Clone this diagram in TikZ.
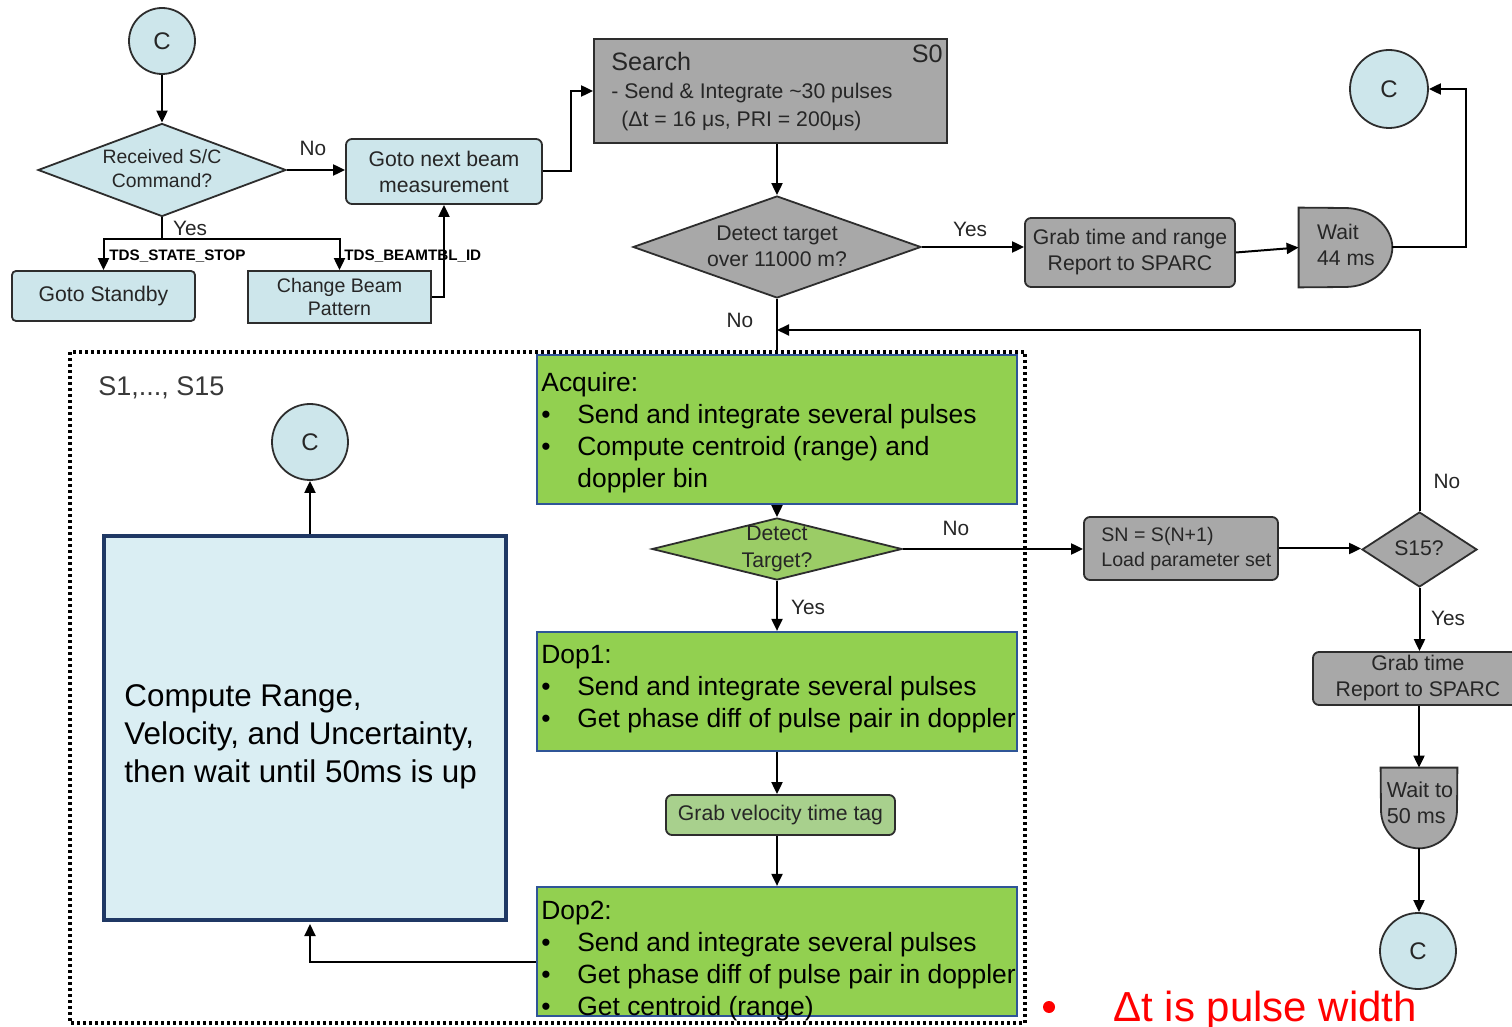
\documentclass[tikz,border=0pt]{standalone}
\usepackage{fontspec}
\setmainfont{Liberation Sans}
\usetikzlibrary{shapes.geometric,arrows.meta,calc}
\definecolor{lblue}{RGB}{205,230,235}
\definecolor{grayf}{RGB}{168,168,168}
\definecolor{acqgreen}{RGB}{146,208,80}
\definecolor{dgreen}{RGB}{155,204,102}
\definecolor{vgreen}{RGB}{168,208,141}
\definecolor{bigfill}{RGB}{218,238,243}
\definecolor{navy}{RGB}{31,56,100}
\definecolor{bord}{RGB}{47,85,151}
\definecolor{edgec}{RGB}{45,45,45}
\newcommand{\mybul}{\makebox[18pt][l]{\textbullet}}
\tikzset{
  every node/.style={font=\fontsize{10.6}{13}\selectfont, text=black!85},
  txt/.style={inner sep=0pt},
  shp/.style={draw=edgec, line width=0.9pt, inner sep=0pt},
  lbbox/.style={shp, fill=lblue, rounded corners=3pt, align=center},
  gbox/.style={shp, fill=grayf, rounded corners=3pt, align=center},
  dia/.style={shp, diamond, aspect=2},
  conn/.style={shp, circle, fill=lblue, minimum size=38pt, font=\fontsize{12}{14}\selectfont},
  gbig/.style={draw=bord, line width=1.1pt, fill=acqgreen, inner sep=0pt, minimum width=240pt},
  btext/.style={txt, anchor=north west, align=left, text=black, font=\fontsize{13.2}{16}\selectfont},
  arr/.style={-{Triangle[length=6pt,width=5.5pt]}, line width=1pt, draw=black},
  ln/.style={line width=1pt, draw=black},
  lab/.style={txt, font=\fontsize{10.4}{12}\selectfont},
  tds/.style={txt, anchor=west, font=\fontsize{7.6}{9}\bfseries\selectfont, text=black}
}
\begin{document}
\begin{tikzpicture}[x=0.5pt,y=-0.5pt]
\clip (0,0) rectangle (1512,1027);
\fill[white] (0,0) rectangle (1512,1027);

% dotted frame of S1..S15
\draw[line width=1.6pt, dash pattern=on 1.5pt off 1.5pt] (70,352) rectangle (1025,1023);
\node[txt, anchor=west, font=\fontsize{13.5}{16}\selectfont, text=gray!45!black] (slab) at (98,388) {S1,..., S15};

% ---------- top left ----------
\node[conn, minimum size=33pt] (c1) at (162,41) {C};
\node[dia, fill=lblue, minimum width=124pt, minimum height=46.5pt] (d1) at (162,170) {};
\node[txt, align=center, font=\fontsize{9.7}{12}\selectfont] (d1t) at (162,169) {Received S/C\\Command?};
\node[lbbox, minimum width=98pt, minimum height=32.5pt] (bnext) at (444,171.5) {Goto next beam\\measurement};
\node[lbbox, rounded corners=2pt, minimum width=91.5pt, minimum height=25pt] (standby) at (103.5,296) {Goto Standby};
\node[shp, fill=lblue, align=center, minimum width=91.5pt, minimum height=26pt, font=\fontsize{9.8}{11.5}\selectfont] (change) at (339.5,297) {Change Beam\\Pattern};

\coordinate (yj) at (162,239);
\draw[arr] (c1.south) -- (d1.north);
\draw[arr] (d1.east) -- (d1.east -| bnext.west);
\node[lab] (no1) at (313,148) {No};
\draw[ln] (d1.south) -- (yj);
\draw[arr] (yj) -| (standby.north);
\draw[arr] (yj) -| (change.north);
\node[lab] (yes1) at (190,228) {Yes};
\node[tds] (tds1) at (109,256) {TDS\_STATE\_STOP};
\node[tds] (tds2) at (344,256) {TDS\_BEAMTBL\_ID};
\draw[arr] (change.east) -| (bnext.south);

% ---------- search ----------
\node[shp, fill=grayf, minimum width=176.5pt, minimum height=52pt] (search) at (770.5,91) {};
\node[txt, anchor=west, font=\fontsize{12.6}{15}\selectfont] (srch) at (611,61) {Search};
\node[txt, anchor=east, font=\fontsize{12.6}{15}\selectfont] (s0) at (943,54) {S0};
\node[txt, anchor=west] (srl1) at (611,93) {- Send \& Integrate \textasciitilde30 pulses};
\node[txt, anchor=west] (srl2) at (621,121) {(Δt = 16 μs, PRI = 200μs)};
\draw[arr] (bnext.east) -- ++(14pt,0) |- (search.west);

\node[dia, fill=grayf, minimum width=144pt, minimum height=51pt] (d2) at (777,247) {};
\node[txt, align=center] (d2t) at (777,246) {Detect target\\over 11000 m?};
\draw[arr] (d2.north |- search.south) -- (d2.north);

\node[gbox, minimum width=105pt, minimum height=34.5pt] (grab1) at (1130,252.5) {Grab time and range\\Report to SPARC};
\draw[arr] (d2.east) -- (d2.east -| grab1.west);
\node[lab] (yes2) at (970,229) {Yes};

\node[inner sep=0pt, minimum width=46.5pt, minimum height=39.5pt] (w44) at (1345.5,247.5) {};
\filldraw[fill=grayf, draw=edgec, line width=0.9pt] (w44.north west) -- (1345,208) .. controls (1371,208) and (1392,226) .. (w44.east) .. controls (1392,269) and (1371,287) .. (1345,287) -- (w44.south west) -- cycle;
\node[txt, align=left] (w44t) at (1346,245) {Wait\\44 ms};
\draw[arr] (grab1.east) -- (w44.west);

\node[conn, minimum size=39pt] (c2) at (1389,89) {C};
\draw[arr] (w44.east) -- ++(37pt,0) |- (c2.east);

% ---------- S1..S15 loop ----------
\node[gbig, minimum height=74.5pt] (acq) at (777,429.5) {};
\node[btext] (acqt) at (541,372) {Acquire:\\\mybul Send and integrate several pulses\\\mybul Compute centroid (range) and\\\hspace*{18pt}doppler bin};
\draw[ln] (d2.south) -- (acq.north);
\node[lab] (no2) at (740,320) {No};

\node[dia, fill=dgreen, minimum width=125pt, minimum height=31pt] (d3) at (777,549) {};
\node[txt, align=center, font=\fontsize{10.6}{13.5}\selectfont] (d3t) at (777,549) {Detect\\Target?};
\draw[arr] (acq.south) -- (d3.north);

\node[gbox, minimum width=97pt, minimum height=31.5pt] (sn) at (1181,548.5) {};
\node[txt, anchor=west, align=left, font=\fontsize{9.8}{12.5}\selectfont] (snt) at (1101,549) {SN = S(N+1)\\Load parameter set};
\draw[arr] (d3.east) -- (d3.east -| sn.west);
\node[lab] (no3) at (956,528) {No};

\node[dia, fill=grayf, minimum width=57.5pt, minimum height=37.5pt] (s15) at (1419.5,549.5) {};
\node[txt] (s15t) at (1419,548) {S15?};
\draw[arr] (sn.east) -- (sn.east -| s15.west);
\coordinate (ret) at (777,330);
\draw[arr] (s15.north) |- (ret);
\node[lab] (no4) at (1447,481) {No};

\node[gbox, minimum width=105pt, minimum height=26.5pt] (grab2) at (1418,678.5) {Grab time\\Report to SPARC};
\draw[arr] (s15.south) -- (s15.south |- grab2.north);
\node[lab] (yes4) at (1448,618) {Yes};

\node[inner sep=0pt, minimum width=38pt, minimum height=40pt] (w50) at (1419,808) {};
\filldraw[fill=grayf, draw=edgec, line width=0.9pt] (w50.north west) -- (w50.north east) -- (1457,810) .. controls (1457,831) and (1440,848) .. (w50.south) .. controls (1398,848) and (1381,831) .. (1381,810) -- cycle;
\node[txt, align=left, font=\fontsize{10.8}{13}\selectfont] (w50t) at (1420,803) {Wait to\\50 ms};
\draw[arr] (w50.north |- grab2.south) -- (w50.north);

\node[conn] (c3) at (1418,951) {C};
\draw[arr] (w50.south) -- (w50.south |- c3.north);

\node[gbig, minimum height=59.5pt] (dop1) at (777,691.5) {};
\node[btext] (dop1t) at (541,645) {Dop1:\\\mybul Send and integrate several pulses\\\mybul Get phase diff of pulse pair in doppler};
\draw[arr] (d3.south) -- (dop1.north);
\node[lab] (yes3) at (808,607) {Yes};

\node[shp, fill=vgreen, rounded corners=3pt, minimum width=114.5pt, minimum height=20pt] (grabv) at (780.5,815) {Grab velocity time tag};
\draw[arr] (dop1.south) -- (dop1.south |- grabv.north);

\node[gbig, minimum height=64.5pt] (dop2) at (777,951.5) {};
\node[btext] (dop2t) at (541,901) {Dop2:\\\mybul Send and integrate several pulses\\\mybul Get phase diff of pulse pair in doppler\\\mybul Get centroid (range)};
\draw[arr] (dop2.north |- grabv.south) -- (dop2.north);

\node[draw=navy, line width=2pt, fill=bigfill, inner sep=0pt, minimum width=201pt, minimum height=192pt] (big) at (305,728) {};
\node[txt, anchor=north west, align=left, text=black, font=\fontsize{15.7}{19}\selectfont] (bigt) at (124,684) {Compute Range,\\Velocity, and Uncertainty,\\then wait until 50ms is up};

\node[conn] (c4) at (310,442) {C};
\draw[arr] (c4.south |- big.north) -- (c4.south);
\draw[arr] (dop2.west |- 0,962) -| ([yshift=-1pt]c4.south |- big.south);

% ---------- note ----------
\node[circle, fill=red, inner sep=0pt, minimum size=6pt] (bul) at (1049,1007) {};
\node[txt, anchor=base west, text=red, font=\fontsize{21}{25}\selectfont] (note) at (1113,1021) {Δt is pulse width};
\end{tikzpicture}
\end{document}
